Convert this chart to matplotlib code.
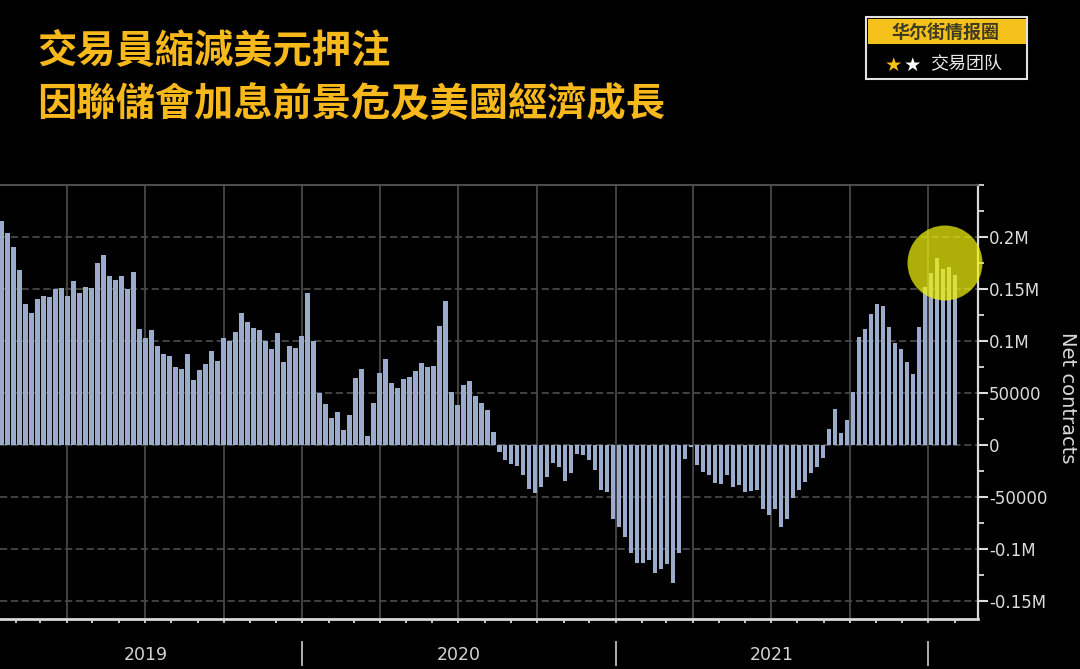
import numpy as np
import pandas as pd
import matplotlib
matplotlib.use('Agg')
import matplotlib.pyplot as plt
import matplotlib.dates as mdates
import matplotlib.transforms as mtransforms
from matplotlib.patches import Ellipse, Rectangle
from matplotlib.ticker import FixedLocator, MultipleLocator, FuncFormatter

plt.rcParams['font.family'] = ['Noto Sans CJK TC', 'DejaVu Sans']

# texts
title_lines = ['交易員縮減美元押注', '因聯儲會加息前景危及美國經濟成長']
logo_top = '华尔街情报圈'
logo_bottom = '交易团队'
y_label = 'Net contracts'
years = ['2019', '2020', '2021']

# weekly net positions (thousand contracts), first report 2019-01-15
first_week = '2019-01-15'
net_k = [
    215.6, 204, 190.7, 168, 136, 127, 140, 143, 142.6, 150,
    151, 143, 158, 146, 152, 151, 175, 183, 163, 159,
    162.5, 150, 166, 112, 102.6, 110.6, 95, 88, 85.6, 75,
    73, 88, 62.5, 72, 77.6, 90.7, 81, 102.6, 100, 109,
    126.6, 118.6, 113, 110.6, 100, 92, 108, 80, 95, 93,
    105, 146, 100, 50.6, 40, 26, 32, 15, 29, 65,
    72.8, 9, 40.7, 69.5, 83, 60, 54.5, 64, 66, 71,
    78.5, 75, 76, 115, 138.7, 51, 39, 58, 62, 47,
    40.7, 34, 12.8, -6.4, -13.8, -18, -20, -29, -41.7, -45.8,
    -40, -30.4, -17, -20.8, -34.6, -27, -8.7, -9.6, -14.4, -23.4,
    -43, -45, -70.5, -79, -88, -104, -113, -113, -110.6, -123,
    -118.6, -113.8, -132, -104, -12.8, -2, -19, -25.6, -29, -36.8,
    -37.5, -29, -40, -38.5, -45, -44, -43, -61, -67, -61,
    -78.5, -70.5, -51, -43, -35, -27, -21, -12, 16, 34.6,
    11.9, 24, 51, 103.5, 112, 125.6, 136, 133.6, 114, 98,
    92, 80, 68, 114, 152, 165, 180, 169, 171, 164,
]

dates = pd.date_range(first_week, periods=len(net_k), freq='7D')
values = np.array(net_k) * 1000

W, H = 1080, 669
fig = plt.figure(figsize=(W / 100, H / 100), dpi=100, facecolor='black')
ax = fig.add_axes([0.0, 1 - 619 / H, 978 / W, (619 - 185) / H], facecolor='black')

ax.bar(dates, values, width=5.2, color='#9aabcb', edgecolor='none', zorder=3)

ax.set_xlim(pd.Timestamp('2019-01-13'), pd.Timestamp('2022-02-28'))
ax.set_ylim(-167000, 250000)

grid_c = '#474747'
for d in pd.date_range('2019-04-01', '2022-01-01', freq='QS'):
    ax.axvline(d, color=grid_c, lw=1.3, zorder=1)
for v in range(-150000, 200001, 50000):
    ax.axhline(v, color=grid_c, lw=1.3, ls=(0, (4, 2)), zorder=1)

# spines
ax.spines['left'].set_visible(False)
ax.spines['top'].set_color('#555555')
ax.spines['top'].set_linewidth(1.3)
ax.spines['right'].set_color('#d8d8d8')
ax.spines['right'].set_linewidth(1.6)
ax.spines['bottom'].set_color('#d8d8d8')
ax.spines['bottom'].set_linewidth(2)

# y axis on the right
ax.yaxis.tick_right()
ax.yaxis.set_major_locator(FixedLocator(range(-150000, 200001, 50000)))
ax.yaxis.set_minor_locator(MultipleLocator(25000))


def fmt(v, pos):
    if v == 0:
        return '0'
    if abs(v) >= 100000:
        return '%gM' % (v / 1e6)
    return '%d' % v


ax.yaxis.set_major_formatter(FuncFormatter(fmt))
ax.tick_params(axis='y', which='major', direction='out', length=7, width=1.5,
               colors='#dcdcdc', labelsize=12, pad=1)
ax.tick_params(axis='y', which='minor', direction='out', length=4, width=1.3,
               colors='#d8d8d8')
for lab in ax.get_yticklabels():
    lab.set_family('DejaVu Sans')

# x axis: monthly ticks, year labels below
ax.xaxis.set_major_locator(mdates.MonthLocator())
ax.tick_params(axis='x', which='major', direction='out', length=3, width=1.3,
               colors='#d8d8d8', labelbottom=False)

trans = mtransforms.blended_transform_factory(ax.transData, ax.transAxes)
for y in years:
    ax.text(pd.Timestamp(y + '-07-02'), -0.083, y, transform=trans, ha='center',
            va='center', fontsize=12.5, color='#d4d4d4', family='DejaVu Sans')
for d in ['2020-01-01', '2021-01-01', '2022-01-01']:
    ax.plot([pd.Timestamp(d)] * 2, [-0.053, -0.106], transform=trans,
            clip_on=False, color='#bdbdbd', lw=1.3)

fig.text(1068 / W, 1 - 398 / H, y_label, rotation=-90, fontsize=14,
         color='#d8d8d8', ha='center', va='center', family='DejaVu Sans')

# highlight circle
fig.add_artist(Ellipse((945 / W, 1 - 263 / H), 75 / W, 75 / H,
                       transform=fig.transFigure, facecolor='#f2f20c',
                       alpha=0.72, edgecolor='none', zorder=5))

# title
gold = '#f7b81c'
fig.text(37 / W, 1 - 52 / H, title_lines[0], fontsize=28.3, weight='black',
         color=gold, ha='left', va='center')
fig.text(37 / W, 1 - 105 / H, title_lines[1], fontsize=28.3, weight='black',
         color=gold, ha='left', va='center')

# logo box
fig.add_artist(Rectangle((868 / W, 1 - 44 / H), 158 / W, 25 / H,
                         transform=fig.transFigure, facecolor='#f5c21b',
                         edgecolor='none'))
fig.add_artist(Rectangle((866 / W, 1 - 79 / H), 161 / W, 62 / H,
                         transform=fig.transFigure, fill=False,
                         edgecolor='#e2e2e2', lw=1.5))
fig.text(946 / W, 1 - 32 / H, logo_top, fontsize=13, color='#3e3b22',
         weight='bold', ha='center', va='center',
         family=['Noto Sans CJK SC', 'DejaVu Sans'])
fig.text(893 / W, 1 - 65 / H, '★', fontsize=14, color='#f5c21b',
         ha='center', va='center', family=['DejaVu Sans'])
fig.text(912 / W, 1 - 65 / H, '★', fontsize=14, color='white',
         ha='center', va='center', family=['DejaVu Sans'])
fig.text(966 / W, 1 - 64 / H, logo_bottom, fontsize=13, color='#e8e8e8',
         ha='center', va='center', family=['Noto Sans CJK SC', 'DejaVu Sans'])

fig.savefig('out.png', dpi=100, facecolor='black')
